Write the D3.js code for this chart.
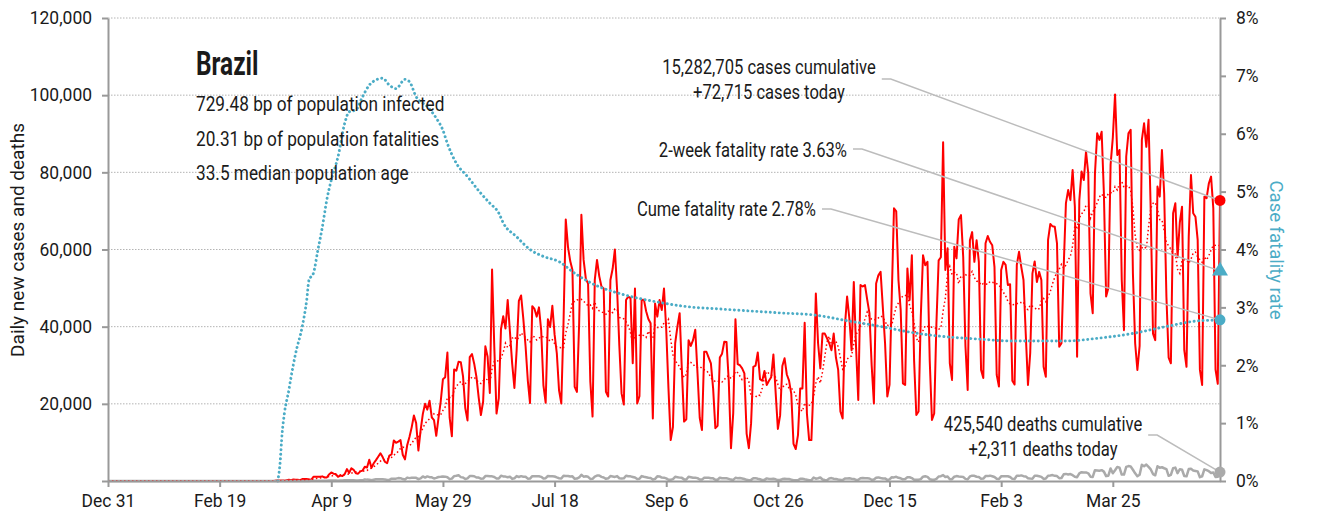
<!DOCTYPE html>
<html>
<head>
<meta charset="utf-8">
<script src="https://cdn.jsdelivr.net/npm/d3@7"></script>
<style>
  body { margin: 0; background: #fff; }
  svg { display: block; }
  text { font-family: Roboto, "Liberation Sans", sans-serif; fill: #1a1a1a; }
</style>
</head>
<body>
<svg id="chart" width="1317" height="520"></svg>
<script>
// ---- data ---------------------------------------------------------------
const country = "Brazil";
const seriesStart = "2020-03-02";          // first reported day of the daily series
const axisStart = "2019-12-31";
const axisEnd = "2021-05-12";

// daily new cases, thousands (one row per week)
const dailyCasesK = [
  0,0,0,0,0,0,0,
  0,0,0,0,0,0,0.1,
  0.1,0.1,0.1,0.1,0.2,0.3,0.2,
  0.4,0.3,0.3,0.2,0.5,0.5,0.5,
  0.4,0.3,1.1,1.1,1.1,1.1,1.2,
  0.9,0.9,1.7,2.2,1.9,1.8,1.1,
  1.4,1.3,1.8,3.1,2.1,3.3,2.9,
  2.0,1.9,2.5,2.7,3.7,3.5,5.5,
  3.4,4.6,5.4,6.3,7.2,6.2,5.0,
  4.6,6.6,6.9,10.5,9.9,10.2,10.6,
  6.8,5.6,9.3,11.4,13.9,17.0,15.0,
  7.9,13.1,17.4,20.0,18.5,20.8,16.5,
  15.8,11.7,16.3,20.6,26.4,26.9,33.3,
  16.4,11.6,28.9,28.6,30.9,30.8,27.1,
  18.9,15.7,32.1,32.9,30.4,27.0,21.7,
  17.1,20.6,34.9,32.2,22.8,54.8,34.7,
  17.5,21.4,39.4,42.7,39.5,46.9,38.7,
  30.5,24.1,33.8,46.7,48.1,42.0,35.0,
  26.1,20.2,45.3,44.6,42.6,45.0,39.0,
  24.8,20.3,41.9,39.9,45.4,38.0,33.1,
  23.5,20.1,41.0,67.8,60.7,57.0,54.7,
  24.4,23.1,40.8,69.0,57.3,52.4,51.2,
  25.8,16.7,52.1,57.3,53.1,50.4,49.9,
  23.1,21.9,52.1,55.0,60.0,49.5,35.0,
  22.7,19.8,46.9,47.8,47.4,30.5,49.9,
  20.1,22.0,46.9,47.0,44.0,42.0,40.9,
  16.2,46.0,42.6,46.9,44.3,49.9,39.2,
  24.0,10.6,14.0,35.7,40.0,43.5,28.8,
  15.4,16.0,36.5,35.0,36.5,39.2,28.0,
  16.4,13.2,33.5,33.5,32.0,30.5,24.0,
  13.7,14.3,32.0,33.0,36.1,36.0,26.0,
  8.5,17.6,41.9,30.3,30.0,29.2,27.9,
  12.3,8.5,15.0,29.6,29.9,33.3,26.4,
  26.0,28.5,24.9,26.0,26.9,32.8,22.9,
  13.5,17.0,29.8,31.8,27.6,26.0,22.6,
  9.6,8.3,11.9,24.0,24.0,41.0,17.5,
  10.6,10.6,25.3,48.6,35.7,29.2,38.2,
  38.2,37.0,35.7,33.9,38.2,32.0,28.8,
  18.0,16.2,40.0,47.8,42.2,33.9,51.6,
  34.8,21.0,50.8,50.4,50.8,47.0,43.5,
  30.0,20.1,51.2,53.3,54.2,45.0,35.7,
  21.9,24.9,48.0,70.7,69.9,52.1,44.3,
  25.3,24.9,55.1,46.9,58.5,31.3,17.1,
  18.0,42.6,58.5,55.9,56.8,31.3,15.8,
  17.5,40.9,57.2,58.0,87.8,54.7,60.3,
  30.5,26.2,60.7,57.7,67.8,68.9,58.0,
  35.0,23.6,62.4,64.5,56.8,62.4,56.8,
  28.8,26.7,61.6,63.5,62.0,61.1,55.5,
  27.5,24.5,54.7,56.8,56.0,50.8,51.0,
  26.0,25.0,56.0,59.4,55.5,52.1,38.2,
  24.9,33.1,53.8,56.9,51.6,54.2,52.1,
  29.6,27.0,62.5,66.6,66.0,65.9,61.6,
  34.8,35.7,55.5,72.0,75.4,72.8,80.6,
  71.1,32.2,72.8,80.2,78.0,85.4,79.7,
  48.6,43.5,79.7,90.1,88.4,90.5,74.5,
  47.8,50.0,82.0,89.0,100.2,84.5,85.8,
  52.1,39.1,84.1,90.1,91.0,53.8,35.7,
  28.8,35.0,88.4,92.7,86.6,93.6,69.4,
  38.2,36.5,76.3,73.7,85.8,74.5,47.8,
  32.0,30.5,69.4,72.0,58.0,67.0,71.1,
  33.9,29.6,63.4,79.3,69.4,68.5,62.5,
  28.8,24.9,73.7,73.3,77.1,78.9,70.7,
  28.9,25.2,72.715
];

// daily new deaths (same days as dailyCasesK)
const dailyDeaths = [
  0,0,0,0,0,0,0,
  0,0,0,0,0,0,0,
  0,0,1,3,3,4,7,
  7,9,12,13,18,15,22,
  22,42,39,42,58,60,73,
  54,67,114,133,141,115,68,
  99,105,204,204,188,217,206,
  115,113,166,165,407,357,346,
  189,338,474,449,435,428,421,
  275,296,600,615,610,751,730,
  496,396,881,749,844,824,816,
  485,674,1179,888,1188,1001,965,
  653,807,1039,1086,1156,1124,956,
  480,623,1262,1349,1473,1005,904,
  525,679,1272,1274,1239,909,892,
  612,627,1282,1269,1238,1206,1022,
  641,654,1374,1185,1141,990,1109,
  552,692,1280,1038,1252,1091,1111,
  602,620,1254,1223,1220,1214,1071,
  631,733,1300,1261,1233,1163,921,
  716,632,1367,1284,1311,1156,1211,
  555,627,921,1595,1129,1212,1088,
  541,561,1154,1394,1437,1079,905,
  572,703,1274,1175,1060,1262,709,
  620,684,1352,1212,1204,1054,892,
  494,565,1271,1085,984,855,758,
  366,553,1215,1184,875,874,682,
  310,315,476,1075,983,874,814,
  415,381,1090,967,829,858,739,
  377,363,836,869,831,729,691,
  335,317,863,729,728,705,552,
  361,284,819,734,754,660,523,
  309,201,290,713,735,569,461,
  230,287,679,550,497,566,432,
  231,259,510,571,510,496,360,
  190,169,179,586,610,451,345,
  226,201,908,609,706,917,387,
  259,216,676,754,598,545,410,
  302,270,630,646,691,587,539,
  272,317,697,755,686,691,657,
  313,376,842,929,770,672,680,
  279,423,964,936,1092,823,705,
  425,523,968,963,749,319,313,
  327,483,1111,1224,1074,462,314,
  293,533,1171,1242,1524,1035,1171,
  469,483,1110,1274,1151,1131,1050,
  551,452,1183,1382,1340,1096,1050,
  592,627,1283,1264,1386,1235,1052,
  595,502,1209,1260,1232,1239,1051,
  559,525,1350,1330,1452,1251,1197,
  713,647,601,1340,1367,1241,1078,
  527,639,1386,1433,1541,1337,1275,
  721,778,1726,1840,1699,1800,1498,
  1086,987,1972,2286,2233,2216,1997,
  1127,1057,2798,2730,2659,2815,2438,
  1259,1383,3251,2009,2777,3650,3438,
  1656,1660,3668,3869,3769,2922,1987,
  1240,1623,4195,3829,4249,3647,3000,
  1803,1480,3808,3459,3560,3305,3070,
  1347,1607,3321,3472,2027,3047,2914,
  1305,1202,3086,3163,2744,2616,2500,
  983,1232,3025,2811,2550,2087,2200,
  1024,1111,2311
];

// cumulative case fatality rate, percent
const cfrDates = [
  "2020-03-16","2020-03-17","2020-03-18","2020-03-19","2020-03-21","2020-03-22",
  "2020-03-24","2020-03-27","2020-03-29","2020-03-30","2020-04-01","2020-04-03",
  "2020-04-05","2020-04-07","2020-04-09","2020-04-12","2020-04-15","2020-04-17",
  "2020-04-20","2020-04-23","2020-04-26","2020-04-29","2020-05-02","2020-05-05",
  "2020-05-08","2020-05-12","2020-05-14","2020-05-17","2020-05-22","2020-05-26",
  "2020-05-29","2020-05-31","2020-06-04","2020-06-09","2020-06-15","2020-06-19",
  "2020-06-23","2020-06-25","2020-07-01","2020-07-07","2020-07-13","2020-07-20",
  "2020-07-27","2020-08-05","2020-08-17","2020-09-01","2020-09-16","2020-10-01",
  "2020-10-29","2020-11-11","2020-11-26","2020-12-11","2020-12-26","2021-01-10",
  "2021-01-25","2021-02-07","2021-02-17","2021-03-04","2021-03-19","2021-04-03",
  "2021-04-18","2021-05-03","2021-05-12"
];
const cfrValues = [
  0,0.28,0.83,1.17,1.57,1.8,
  2.2,2.67,3.13,3.47,3.59,3.99,
  4.39,4.86,5.2,5.6,6.18,6.38,
  6.41,6.64,6.84,6.93,6.96,6.84,
  6.78,6.94,6.9,6.64,6.47,6.27,
  6.06,5.83,5.49,5.26,4.97,4.8,
  4.63,4.46,4.22,4.0,3.88,3.79,
  3.59,3.39,3.23,3.1,3.01,2.97,
  2.9,2.87,2.77,2.67,2.56,2.49,
  2.45,2.42,2.42,2.42,2.47,2.55,
  2.67,2.77,2.78
];

const xTickDates = ["2019-12-31","2020-02-19","2020-04-09","2020-05-29","2020-07-18",
  "2020-09-06","2020-10-26","2020-12-15","2021-02-03","2021-03-25"];
const caseTicks = [0, 20000, 40000, 60000, 80000, 100000, 120000];
const rateTicks = [0, 1, 2, 3, 4, 5, 6, 7, 8];

const totalCases = 15282705;
const totalDeaths = 425540;
const twoWeekCfr = 3.63;
const infectedBp = 729.48;
const fatalityBp = 20.31;
const medianAge = 33.5;

// ---- colours --------------------------------------------------------------
const RED = "#ff0000", BLUE = "#4bacc6", GREY = "#aaaaaa", AXIS = "#999999", LEADER = "#bcbcbc";

// ---- scales -------------------------------------------------------------
const parse = d3.utcParse("%Y-%m-%d");
const x0 = parse(axisStart), x1 = parse(axisEnd), s0 = parse(seriesStart);
const plotL = 108, plotR = 1220, plotT = 18, plotB = 481;

const x = d3.scaleUtc().domain([x0, x1]).range([plotL, plotR]);
const yL = d3.scaleLinear().domain([0, 120000]).range([plotB, plotT]);
const yR = d3.scaleLinear().domain([0, 8]).range([plotB, plotT]);

const svg = d3.select("#chart");
const fmt = d3.format(",");

// narrow-set text: Roboto squeezed horizontally
function label(parent, px, py, str, o = {}) {
  const sx = o.sx ?? 0.8;
  return parent.append("text")
    .attr("transform", `translate(${px},${py}) scale(${sx},1)`)
    .attr("text-anchor", o.anchor || "start")
    .style("font-size", (o.size || 21) + "px")
    .style("font-weight", o.weight || 400)
    .style("fill", o.fill || "#1a1a1a")
    .text(str);
}

// ---- derived series ---------------------------------------------------------
const lead = d3.utcDay.count(x0, s0);
const casesFull = d3.range(lead).map(() => 0).concat(dailyCasesK.map(v => v * 1000));
const deathsFull = d3.range(lead).map(() => 0).concat(dailyDeaths);
const dayOf = i => d3.utcDay.offset(x0, i);

const casePts = dailyCasesK.map((v, i) => ({ date: d3.utcDay.offset(s0, i), value: v * 1000 }));
const avgPts = casesFull.map((v, i) => ({
  date: dayOf(i),
  value: d3.mean(casesFull.slice(Math.max(0, i - 6), i + 1))
}));
const deathPts = deathsFull.map((v, i) => ({ date: dayOf(i), value: v }));
const cfrPts = cfrDates.map((d, i) => ({ date: parse(d), value: cfrValues[i] }));

const newCases = Math.round(dailyCasesK[dailyCasesK.length - 1] * 1000);
const newDeaths = dailyDeaths[dailyDeaths.length - 1];
const cumeCfr = totalDeaths / totalCases * 100;
const lastDate = casePts[casePts.length - 1].date;

// ---- grid ---------------------------------------------------------------
svg.append("g").selectAll("line")
  .data(caseTicks.filter(d => d > 0))
  .join("line")
  .attr("x1", plotL).attr("x2", plotR)
  .attr("y1", d => yL(d)).attr("y2", d => yL(d))
  .attr("stroke", "#b4b4b4").attr("stroke-width", 1)
  .attr("stroke-dasharray", "1.5,1.5");

// ---- series -------------------------------------------------------------
const lineL = d3.line().x(d => x(d.date)).y(d => yL(d.value));
const lineR = d3.line().x(d => x(d.date)).y(d => yR(d.value)).curve(d3.curveMonotoneX);

svg.append("path").datum(casePts).attr("d", lineL)
  .attr("fill", "none").attr("stroke", RED).attr("stroke-width", 2)
  .attr("stroke-linejoin", "round");

svg.append("path").datum(deathPts).attr("d", lineL)
  .attr("fill", "none").attr("stroke", GREY).attr("stroke-width", 2.5)
  .attr("stroke-linejoin", "round");

svg.append("path").datum(avgPts).attr("d", lineL)
  .attr("fill", "none").attr("stroke", RED).attr("stroke-width", 1.5)
  .attr("stroke-dasharray", "1.5,2.5");

svg.append("path").datum(cfrPts).attr("d", lineR)
  .attr("fill", "none").attr("stroke", BLUE).attr("stroke-width", 2.9)
  .attr("stroke-linecap", "round").attr("stroke-dasharray", "0.1,4.4");

// ---- axes ---------------------------------------------------------------
const TICK_SX = 0.97;
function styleAxis(g, color) {
  g.select(".domain").attr("stroke", AXIS).attr("stroke-width", 2);
  g.selectAll(".tick line").attr("stroke", AXIS).attr("stroke-width", 2);
  g.selectAll(".tick text")
    .attr("fill", color).style("font-size", "18px")
    .attr("x", function () { return (+this.getAttribute("x") || 0) / TICK_SX; })
    .attr("transform", `scale(${TICK_SX},1)`);
}

svg.append("g").attr("transform", `translate(${plotL},0)`)
  .call(d3.axisLeft(yL).tickValues(caseTicks).tickFormat(d => d === 0 ? "" : fmt(d))
    .tickSize(6).tickSizeOuter(0).tickPadding(10))
  .call(g => styleAxis(g, "#1a1a1a"));

svg.append("g").attr("transform", `translate(${plotR},0)`)
  .call(d3.axisRight(yR).tickValues(rateTicks).tickFormat(d => d + "%")
    .tickSize(6).tickSizeOuter(0).tickPadding(10))
  .call(g => styleAxis(g, BLUE));

svg.append("g").attr("transform", `translate(0,${plotB})`)
  .call(d3.axisBottom(x).tickValues(xTickDates.map(parse)).tickFormat(d3.utcFormat("%b %-d"))
    .tickSize(6).tickSizeOuter(0).tickPadding(7))
  .call(g => styleAxis(g, "#1a1a1a"));

svg.append("text")
  .attr("transform", "translate(24,240) rotate(-90)")
  .attr("text-anchor", "middle").style("font-size", "19px")
  .text("Daily new cases and deaths");

svg.append("text")
  .attr("transform", "translate(1270,250) rotate(90)")
  .attr("text-anchor", "middle").style("font-size", "18.5px").style("fill", BLUE)
  .text("Case fatality rate");

// ---- country panel ------------------------------------------------------
label(svg, 196, 75, country, { size: 33, weight: 700, sx: 0.74 });

const info = [
  `${infectedBp.toFixed(2)} bp of population infected`,
  `${fatalityBp.toFixed(2)} bp of population fatalities`,
  `${medianAge.toFixed(1)} median population age`
];
info.forEach((s, i) => label(svg, 196, 111 + i * 34.7, s, { size: 21, sx: 0.82 }));

// ---- callouts -----------------------------------------------------------
const leaders = svg.append("g");
const markers = svg.append("g");
const NOTE_SX = 0.79;

function callout(lines, anchor, tx, ty, lineGap, target, leaderY) {
  const texts = lines.map((s, i) => label(svg, tx, ty + i * lineGap, s, { size: 21, sx: NOTE_SX, anchor }));
  const w = d3.max(texts, t => t.node().getComputedTextLength()) * NOTE_SX;
  const endX = anchor === "middle" ? tx + w / 2 : anchor === "end" ? tx : tx + w;
  const sx = endX + 6;
  leaders.append("polyline")
    .attr("points", [[sx, leaderY], [sx + 9, leaderY], target].map(p => p.join(",")).join(" "))
    .attr("fill", "none").attr("stroke", LEADER).attr("stroke-width", 1.5);
}

const caseTarget = [x(lastDate), yL(newCases)];
const twoWeekTarget = [x(lastDate), yR(twoWeekCfr)];
const cumeTarget = [x(lastDate), yR(cumeCfr)];
const deathTarget = [x(lastDate), yL(newDeaths)];

callout([`${fmt(totalCases)} cases cumulative`, `+${fmt(newCases)} cases today`],
  "middle", 769, 74, 25, caseTarget, 79);
callout([`2-week fatality rate ${twoWeekCfr.toFixed(2)}%`], "end", 847, 157, 0, twoWeekTarget, 149);
callout([`Cume fatality rate ${cumeCfr.toFixed(2)}%`], "end", 816, 216, 0, cumeTarget, 209);
callout([`${fmt(totalDeaths)} deaths cumulative`, `+${fmt(newDeaths)} deaths today`],
  "middle", 1043, 431, 24.5, deathTarget, 435);

markers.append("circle").attr("cx", caseTarget[0]).attr("cy", caseTarget[1]).attr("r", 5.5).attr("fill", RED);
markers.append("path")
  .attr("d", d3.symbol(d3.symbolTriangle, 110)())
  .attr("transform", `translate(${twoWeekTarget[0]},${twoWeekTarget[1]})`)
  .attr("fill", BLUE);
markers.append("circle").attr("cx", cumeTarget[0]).attr("cy", cumeTarget[1]).attr("r", 5.5).attr("fill", BLUE);
markers.append("circle").attr("cx", deathTarget[0]).attr("cy", deathTarget[1]).attr("r", 5.5).attr("fill", GREY);
</script>
</body>
</html>
